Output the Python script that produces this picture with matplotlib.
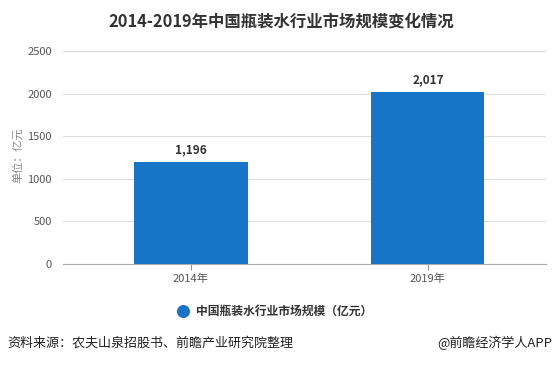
import matplotlib
matplotlib.use('Agg')
import matplotlib.pyplot as plt
import numpy as np

plt.rcParams['font.family'] = ['Noto Sans CJK SC', 'DejaVu Sans']

# data ------------------------------------------
years = ['2014年', '2019年']
market_size = [1196, 2017]
value_labels = ['1,196', '2,017']
yticks = [0, 500, 1000, 1500, 2000, 2500]

title = '2014-2019年中国瓶装水行业市场规模变化情况'
ylabel = '单位：亿元'
legend_name = '中国瓶装水行业市场规模（亿元）'
source = '资料来源：农夫山泉招股书、前瞻产业研究院整理'
credit = '@前瞻经济学人APP'

bar_color = '#1874c6'

fig = plt.figure(figsize=(5.58, 3.65), dpi=100)
ax = fig.add_axes([63/558, 1-264/365, 483/558, 213/365])

x = np.arange(len(years))
ax.bar(x, market_size, width=0.477, color=bar_color, zorder=3)
for xi, v, lab in zip(x, market_size, value_labels):
    ax.text(xi, v + 70, lab, ha='center', va='bottom', fontsize=8.5,
            fontweight='bold', color='#333333')

ax.set_xlim(-0.54, 1.498)
ax.set_ylim(0, 2500)
ax.set_yticks(yticks)
ax.set_yticklabels([str(t) for t in yticks], fontsize=8, color='#555555')
ax.set_xticks(x)
ax.set_xticklabels(years, fontsize=8, color='#555555')
ax.tick_params(axis='y', length=0, pad=8)
ax.tick_params(axis='x', length=4, color='#999999', pad=3)
ax.grid(axis='y', color='#dddddd', linewidth=0.8, zorder=0)
for s in ['top', 'right', 'left']:
    ax.spines[s].set_visible(False)
ax.spines['bottom'].set_color('#aaaaaa')
ax.spines['bottom'].set_linewidth(0.8)

fig.text(18/558, 1-155/365, ylabel, rotation=90, ha='center', va='center',
         fontsize=8, color='#888888')

fig.text(281/558, 1-22/365, title, ha='center', va='center', fontsize=11.8,
         fontweight='bold', color='#333333')

# legend
ax.scatter([183/558], [1-311/365], s=70, color=bar_color, transform=fig.transFigure,
           clip_on=False, zorder=5)
fig.text(196/558, 1-311/365, legend_name, ha='left', va='center', fontsize=8.5,
         fontweight='bold', color='#333333')

fig.text(7/558, 1-343/365, source, ha='left', va='center', fontsize=9.4,
         color='#222222')
fig.text(552/558, 1-343/365, credit, ha='right', va='center', fontsize=9.4,
         color='#222222')

fig.savefig('out.png', dpi=100)
